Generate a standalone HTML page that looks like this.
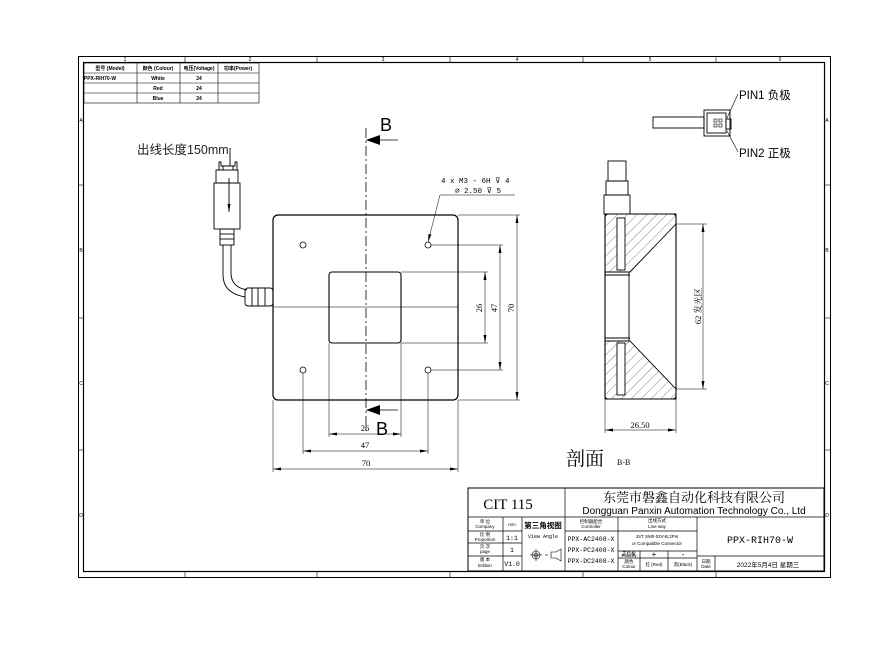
<!DOCTYPE html>
<html><head><meta charset="utf-8"><style>
html,body{margin:0;padding:0;background:#fff;}
svg{display:block;font-family:"Liberation Sans","Noto Sans CJK SC",sans-serif;}
.m{font-family:"Liberation Mono","Noto Sans CJK SC",monospace;}
.s{font-family:"Liberation Serif","Noto Serif CJK SC",serif;}
</style></head><body>
<svg width="871" height="654" viewBox="0 0 871 654" xmlns="http://www.w3.org/2000/svg">
<defs>
<marker id="a" markerWidth="8" markerHeight="6" refX="8" refY="3" orient="auto-start-reverse" markerUnits="userSpaceOnUse"><path d="M0,1.5 L8,3 L0,4.5z" fill="#000"/></marker>
<pattern id="h" width="7" height="7" patternUnits="userSpaceOnUse" patternTransform="rotate(45)"><line x1="0" y1="0" x2="0" y2="7" stroke="#333" stroke-width="0.6"/></pattern>
</defs>
<rect width="871" height="654" fill="#fff"/>
<g fill="none" stroke="#000">
<rect x="78.5" y="56.5" width="752" height="521" stroke-width="1"/>
<rect x="83.5" y="62.5" width="741" height="509" stroke-width="1.2"/>
<g stroke-width="0.6">
<line x1="185" y1="57" x2="185" y2="62"/><line x1="317" y1="57" x2="317" y2="62"/><line x1="450" y1="57" x2="450" y2="62"/><line x1="583" y1="57" x2="583" y2="62"/><line x1="716" y1="57" x2="716" y2="62"/>
<line x1="185" y1="571" x2="185" y2="577"/><line x1="317" y1="571" x2="317" y2="577"/><line x1="450" y1="571" x2="450" y2="577"/><line x1="583" y1="571" x2="583" y2="577"/><line x1="716" y1="571" x2="716" y2="577"/>
<line x1="78" y1="185" x2="83" y2="185"/><line x1="78" y1="318" x2="83" y2="318"/><line x1="78" y1="450" x2="83" y2="450"/>
<line x1="825" y1="185" x2="830" y2="185"/><line x1="825" y1="318" x2="830" y2="318"/><line x1="825" y1="450" x2="830" y2="450"/>
</g>
</g>
<g font-size="5" text-anchor="middle">
<text x="125" y="61">1</text><text x="250" y="61">2</text><text x="383" y="61">3</text><text x="517" y="61">4</text><text x="650" y="61">5</text><text x="780" y="61">6</text>
<text x="81" y="122">A</text><text x="81" y="252">B</text><text x="81" y="385">C</text><text x="81" y="517">D</text>
<text x="827" y="122">A</text><text x="827" y="252">B</text><text x="827" y="385">C</text><text x="827" y="517">D</text>
</g>
<!-- top-left table -->
<g fill="none" stroke="#000" stroke-width="0.6">
<rect x="84" y="63" width="175" height="40"/>
<line x1="84" y1="73" x2="259" y2="73"/><line x1="84" y1="83" x2="259" y2="83"/><line x1="84" y1="93" x2="259" y2="93"/>
<line x1="137" y1="63" x2="137" y2="103"/><line x1="180" y1="63" x2="180" y2="103"/><line x1="218" y1="63" x2="218" y2="103"/>
</g>
<g font-size="5" text-anchor="middle" font-weight="bold">
<text x="110" y="70">型号 (Model)</text><text x="158" y="70">颜色 (Colour)</text><text x="199" y="70">电压(Voltage)</text><text x="238" y="70">功率(Power)</text>
<text x="100" y="80">PPX-RIH70-W</text><text x="158" y="80">White</text><text x="199" y="80">24</text>
<text x="158" y="90">Red</text><text x="199" y="90">24</text>
<text x="158" y="100">Blue</text><text x="199" y="100">24</text>
</g>
<!-- cable -->
<text x="137" y="154" font-size="12.5" fill="#222">出线长度150mm</text>
<g fill="none" stroke="#000" stroke-width="0.9">
<line x1="230" y1="148" x2="230" y2="166"/>
<path d="M219,162 v8 h4 v-4 h10 v4 h4 v-8 h-2 v4 h-14 v-4z"/>
<rect x="216" y="170" width="22" height="13"/>
<rect x="214" y="183" width="26" height="46"/>
<line x1="229" y1="178" x2="229" y2="212" marker-end="url(#a)"/>
<rect x="220" y="229" width="14" height="16"/>
<line x1="220" y1="234" x2="234" y2="234"/><line x1="220" y1="239" x2="234" y2="239"/>
<path d="M223,245 v30 q0,18 22,22 M231,245 v28 q0,14 16,17"/>
<rect x="245" y="288" width="28" height="18" rx="3"/>
<line x1="252" y1="288" x2="252" y2="306"/><line x1="258" y1="288" x2="258" y2="306"/><line x1="265" y1="288" x2="265" y2="306"/>
</g>
<!-- main view -->
<g fill="none" stroke="#000">
<rect x="273" y="215" width="185" height="185" rx="5" stroke-width="1.2"/>
<rect x="329" y="272" width="72" height="71" rx="3" stroke-width="1.1"/>
<g stroke-width="0.8"><circle cx="303" cy="245" r="3"/><circle cx="428" cy="245" r="3"/><circle cx="303" cy="370" r="3"/><circle cx="428" cy="370" r="3"/></g>
<line x1="366" y1="128" x2="366" y2="432" stroke-width="0.8" stroke-dasharray="10,3,2,3"/>
<line x1="273" y1="307" x2="458" y2="307" stroke-width="0.6"/>
<g stroke-width="0.5">
<line x1="401" y1="272" x2="488" y2="272"/><line x1="401" y1="343" x2="488" y2="343"/>
<line x1="431" y1="245" x2="503" y2="245"/><line x1="431" y1="370" x2="503" y2="370"/>
<line x1="458" y1="215" x2="520" y2="215"/><line x1="458" y1="400" x2="520" y2="400"/>
<line x1="485" y1="272" x2="485" y2="343" marker-start="url(#a)" marker-end="url(#a)"/>
<line x1="500" y1="245" x2="500" y2="370" marker-start="url(#a)" marker-end="url(#a)"/>
<line x1="517" y1="215" x2="517" y2="400" marker-start="url(#a)" marker-end="url(#a)"/>
<line x1="329" y1="343" x2="329" y2="437"/><line x1="401" y1="343" x2="401" y2="437"/>
<line x1="303" y1="373" x2="303" y2="454"/><line x1="428" y1="373" x2="428" y2="454"/>
<line x1="273" y1="400" x2="273" y2="472"/><line x1="458" y1="400" x2="458" y2="472"/>
<line x1="329" y1="434" x2="401" y2="434" marker-start="url(#a)" marker-end="url(#a)"/>
<line x1="303" y1="451" x2="428" y2="451" marker-start="url(#a)" marker-end="url(#a)"/>
<line x1="273" y1="469" x2="458" y2="469" marker-start="url(#a)" marker-end="url(#a)"/>
<polyline points="440,195 515,195"/><polyline points="440,195 428,242" marker-end="url(#a)"/>
</g>
<line x1="398" y1="140" x2="366" y2="140" stroke-width="0.8"/>
<line x1="398" y1="410" x2="366" y2="410" stroke-width="0.8"/>
</g>
<path d="M366,140 L380,135 L380,145z M366,410 L380,405 L380,415z" fill="#000"/>
<text x="380" y="131" font-size="18" fill="#000">B</text>
<text x="376" y="435" font-size="18" fill="#000">B</text>
<g class="s" font-size="8.5" fill="#000" text-anchor="middle">
<text x="365" y="431">26</text><text x="365" y="448">47</text><text x="366" y="466">70</text>
<text transform="translate(482,308) rotate(-90)">26</text>
<text transform="translate(497,308) rotate(-90)">47</text>
<text transform="translate(514,308) rotate(-90)">70</text>
</g>
<g class="m" font-size="7.5" fill="#000">
<text x="441" y="183">4 x  M3 - 6H ⊽ 4</text><text x="455" y="193">⌀ 2.50 ⊽ 5</text>
</g>
<!-- side view -->
<g fill="none" stroke="#000" stroke-width="0.9">
<rect x="608" y="161" width="18" height="20"/>
<rect x="606" y="181" width="22" height="14"/>
<rect x="604" y="195" width="26" height="19"/>
<rect x="605" y="214" width="71" height="185" rx="3" stroke-width="1.1"/>
<path d="M605,214 h71 v10 l-46,48 h-25z" fill="url(#h)"/>
<path d="M605,399 h71 v-10 l-46,-48 h-25z" fill="url(#h)"/>
<line x1="629" y1="272" x2="629" y2="341"/><line x1="605" y1="275" x2="630" y2="275"/><line x1="605" y1="338" x2="630" y2="338"/>
<rect x="617" y="218" width="8" height="52" fill="#fff"/><rect x="617" y="343" width="8" height="52" fill="#fff"/>
<g stroke-width="0.5">
<line x1="676" y1="224" x2="707" y2="224"/><line x1="676" y1="389" x2="707" y2="389"/>
<line x1="703" y1="224" x2="703" y2="389" marker-start="url(#a)" marker-end="url(#a)"/>
<line x1="605" y1="399" x2="605" y2="433"/><line x1="676" y1="399" x2="676" y2="433"/>
<line x1="605" y1="430" x2="676" y2="430" marker-start="url(#a)" marker-end="url(#a)"/>
</g>
</g>
<text class="s" transform="translate(701,306) rotate(-90)" font-size="8.5" text-anchor="middle">62 发光区</text>
<text class="s" x="640" y="428" font-size="8.5" text-anchor="middle">26.50</text>
<text class="s" x="566" y="465" font-size="19">剖面</text><text class="s" x="617" y="465" font-size="8">B-B</text>
<!-- pins connector -->
<g fill="none" stroke="#000" stroke-width="0.9">
<rect x="653" y="117" width="51" height="11"/>
<rect x="704" y="110" width="26" height="26"/>
<rect x="707" y="113" width="19" height="20"/>
<rect x="726" y="119" width="5" height="10"/>
<g stroke-width="0.6"><rect x="714" y="119" width="3" height="3"/><rect x="719" y="119" width="3" height="3"/><rect x="714" y="124" width="3" height="3"/><rect x="719" y="124" width="3" height="3"/>
<polyline points="738,94 727,118"/><polyline points="738,152 727,131"/></g>
</g>
<text x="739" y="99" font-size="11.5">PIN1 负极</text>
<text x="739" y="157" font-size="11.5">PIN2 正极</text>
<!-- title block -->
<g fill="none" stroke="#000" stroke-width="0.7">
<rect x="468" y="488" width="356" height="83" stroke-width="1"/>
<line x1="468" y1="517" x2="824" y2="517"/>
<line x1="565" y1="488" x2="565" y2="571"/>
<line x1="503" y1="517" x2="503" y2="571"/><line x1="522" y1="517" x2="522" y2="571"/>
<line x1="468" y1="531" x2="522" y2="531"/><line x1="468" y1="543" x2="522" y2="543"/><line x1="468" y1="556" x2="522" y2="556"/>
<line x1="618" y1="517" x2="618" y2="571"/><line x1="697" y1="517" x2="697" y2="571"/>
<line x1="565" y1="531" x2="697" y2="531"/>
<line x1="618" y1="551" x2="697" y2="551"/><line x1="618" y1="558" x2="697" y2="558"/>
<line x1="640" y1="551" x2="640" y2="571"/><line x1="668" y1="551" x2="668" y2="571"/>
<line x1="697" y1="556" x2="824" y2="556"/><line x1="715" y1="556" x2="715" y2="571"/>
</g>
<text class="s" x="508" y="509" font-size="15" text-anchor="middle">CIT 115</text>
<text class="s" x="694" y="502" font-size="13" text-anchor="middle">东莞市磐鑫自动化科技有限公司</text>
<text x="694" y="514" font-size="10" text-anchor="middle">Dongguan Panxin Automation Technology Co., Ltd</text>
<g font-size="4.5" text-anchor="middle">
<text x="485" y="523">单 位</text><text x="485" y="528">Company</text><text x="512" y="526">mm</text>
<text x="485" y="536">比 例</text><text x="485" y="541">Proportion</text>
<text x="485" y="548">页 次</text><text x="485" y="553">page</text>
<text x="485" y="561">版 本</text><text x="485" y="567">Edition</text>
<text x="591" y="523">控制器配合</text><text x="591" y="528">Controller</text>
<text x="657" y="522">出线方式</text><text x="657" y="528">Line way</text>
<text x="657" y="538">JST SM0-02V-B,2Pin</text><text x="657" y="545">or Compatible Connector</text>
<text x="629" y="555">正负极</text><text x="629" y="557">Polarity</text>
<text x="629" y="563">颜色</text><text x="629" y="568">Colour</text>
<text x="654" y="566">红 (Red)</text><text x="683" y="566">黑(Black)</text>
<text x="706" y="563">日期</text><text x="706" y="568">Date</text>
</g>
<g class="m" font-size="6.5" text-anchor="middle">
<text x="512" y="540">1:1</text><text x="512" y="552">1</text><text x="512" y="566">V1.0</text>
<text x="591" y="541">PPX-AC2408-X</text><text x="591" y="552">PPX-PC2408-X</text><text x="591" y="563">PPX-DC2408-X</text>
<text x="543" y="538" font-size="5">View Angle</text>
</g>
<text x="543" y="528" font-size="7.5" text-anchor="middle" font-weight="bold">第三角视图</text>
<text x="654" y="557" font-size="8" text-anchor="middle">+</text><text x="683" y="557" font-size="8" text-anchor="middle">-</text>
<g fill="none" stroke="#000" stroke-width="0.6">
<circle cx="536" cy="555" r="4"/><circle cx="536" cy="555" r="2"/><line x1="530" y1="555" x2="542" y2="555"/><line x1="536" y1="549" x2="536" y2="561"/>
<line x1="545" y1="555" x2="548" y2="555"/>
<path d="M551,552 h5 l5,-3 v12 l-5,-3 h-5z"/>
</g>
<text class="m" x="760" y="543" font-size="10" text-anchor="middle">PPX-RIH70-W</text>
<text x="768" y="567" font-size="6.5" text-anchor="middle">2022年5月4日 星期三</text>
</svg>
</body></html>
